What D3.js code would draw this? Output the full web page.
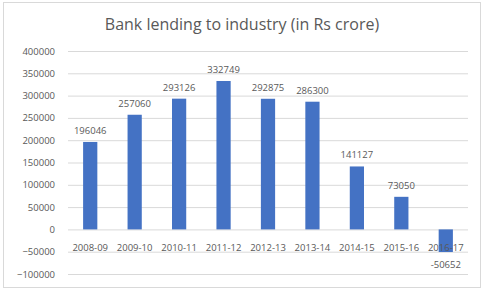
<!DOCTYPE html>
<html>
<head>
<meta charset="utf-8">
<script src="https://cdn.jsdelivr.net/npm/d3@7"></script>
<style>
  body { margin: 0; background: #fff; }
  text { font-family: "Open Sans", "Liberation Sans", sans-serif; fill: #595959; }
</style>
</head>
<body>
<div id="chart"></div>
<script>
const years = ['2008-09', '2009-10', '2010-11', '2011-12', '2012-13', '2013-14', '2014-15', '2015-16', '2016-17'];
const lending = [196046, 257060, 293126, 332749, 292875, 286300, 141127, 73050, -50652];
const yTicks = [-100000, -50000, 0, 50000, 100000, 150000, 200000, 250000, 300000, 350000, 400000];

const W = 484, H = 292;
const margin = {top: 51, right: 16, bottom: 17, left: 68};

const svg = d3.select('#chart').append('svg')
    .attr('width', W)
    .attr('height', H);

// outer chart border
svg.append('rect')
    .attr('x', 3.5).attr('y', 2.5)
    .attr('width', W - 7).attr('height', H - 7)
    .attr('fill', '#fff')
    .attr('stroke', '#d9d9d9');

svg.append('text')
    .attr('x', W / 2).attr('y', 30)
    .attr('text-anchor', 'middle')
    .style('font-size', '16px')
    .text('Bank lending to industry (in Rs crore)');

const x = d3.scaleBand()
    .domain(years)
    .range([margin.left, W - margin.right])
    .paddingInner(0.68)
    .paddingOuter(0.34);

const y = d3.scaleLinear()
    .domain([-100000, 400000])
    .range([H - margin.bottom - 1, margin.top]);

// gridlines + y labels
const yAxis = svg.append('g')
    .attr('transform', `translate(${margin.left},0)`)
    .call(d3.axisLeft(y).tickValues(yTicks).tickSize(-(W - margin.left - margin.right)).tickFormat(d3.format('d')).tickPadding(13));
yAxis.select('.domain').remove();
yAxis.selectAll('line').attr('stroke', '#d9d9d9');
yAxis.selectAll('text').style('font-size', '9.5px').attr('fill', '#595959');

// bars
svg.append('g').selectAll('rect')
    .data(lending)
    .join('rect')
    .attr('x', (d, i) => x(years[i]))
    .attr('y', d => y(Math.max(0, d)))
    .attr('width', x.bandwidth())
    .attr('height', d => Math.abs(y(d) - y(0)))
    .attr('fill', '#4472c4');

// category labels at the zero line
svg.append('g').selectAll('text')
    .data(years)
    .join('text')
    .attr('x', d => x(d) + x.bandwidth() / 2)
    .attr('y', y(0) + 22)
    .attr('text-anchor', 'middle')
    .style('font-size', '9.5px')
    .text(d => d);

// data labels
svg.append('g').selectAll('text')
    .data(lending)
    .join('text')
    .attr('x', (d, i) => x(years[i]) + x.bandwidth() / 2)
    .attr('y', d => d >= 0 ? y(d) - 8 : y(d) + 16)
    .attr('text-anchor', 'middle')
    .style('font-size', '9.5px')
    .text(d => d);
</script>
</body>
</html>
